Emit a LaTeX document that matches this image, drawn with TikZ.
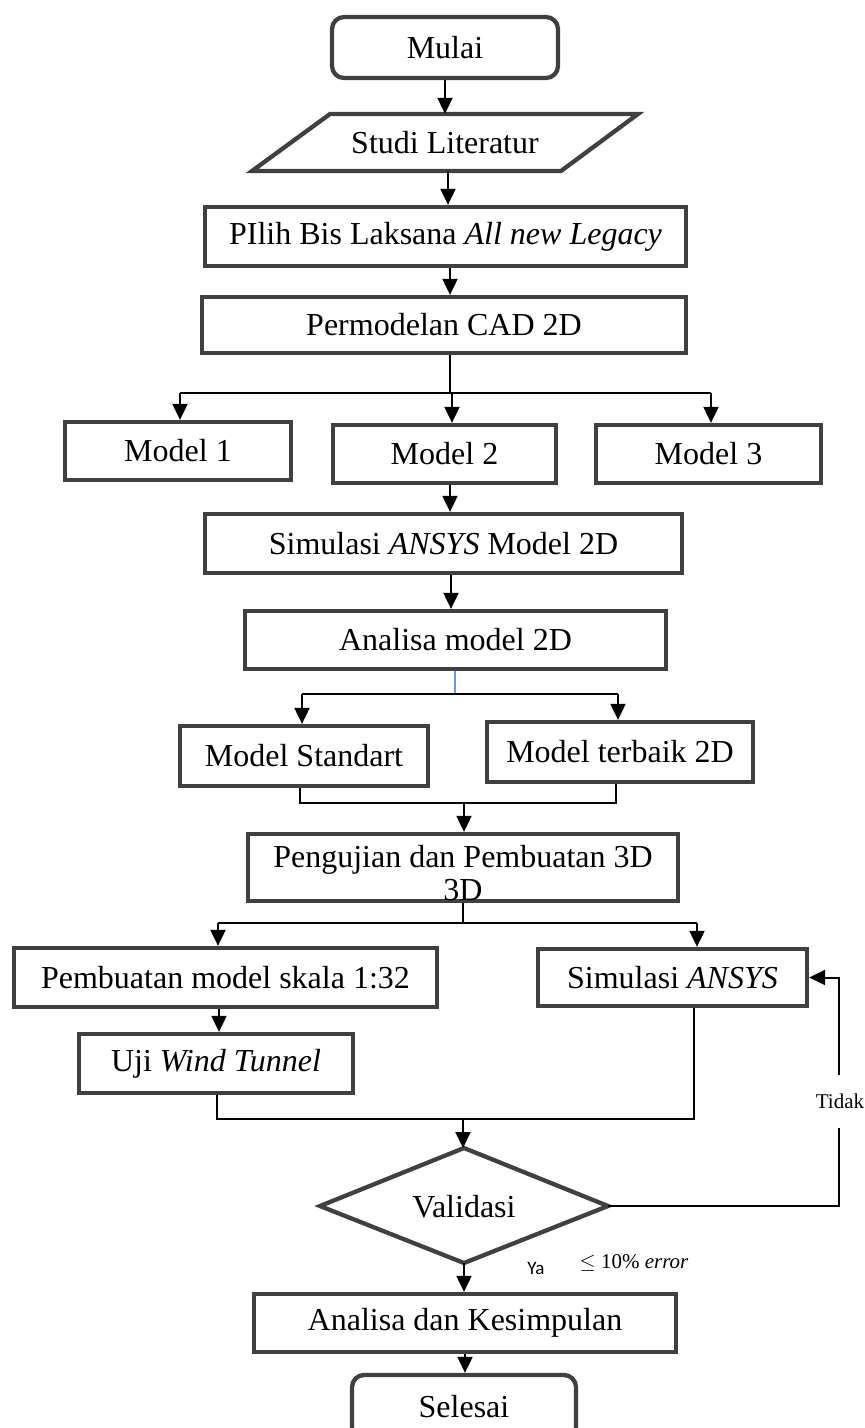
\documentclass[tikz,border=0pt]{standalone}
\usepackage{fontspec}
\setmainfont{Liberation Serif}
\newfontfamily\yafont{Carlito}
\usetikzlibrary{arrows.meta,calc}
\definecolor{bordergray}{HTML}{404040}
\definecolor{linkblue}{HTML}{6C9BD2}
\begin{document}
\begin{tikzpicture}[x=1pt,y=-1pt,
  every node/.style={font=\fontsize{32}{36}\selectfont, inner sep=0pt},
  stepbox/.style={draw=bordergray, line width=4.3pt, fill=white},
  term/.style={stepbox, rounded corners=12pt},
  link/.style={line width=2pt, draw=black},
  arr/.style={link, -{Triangle[length=16pt,width=15pt]}},
  smalltext/.style={font=\fontsize{21}{24}\selectfont},
]
\useasboundingbox (0,0) rectangle (865,1428);

% nodes
\node[term, minimum width=226pt, minimum height=61pt] (mulai) at (445,47.5) {Mulai};
\draw[stepbox] (330,114) -- (638,114) -- (561,171) -- (252,171) -- cycle;
\node[minimum width=300pt, minimum height=57pt] (studi) at (445,142.5) {Studi Literatur};
\node[stepbox, minimum width=481pt, minimum height=59pt] (pilih) at (445.5,236.5) {PIlih Bis Laksana \textit{All new Legacy}};
\node[stepbox, minimum width=484pt, minimum height=56pt] (cad) at (444,325) {Permodelan CAD 2D};
\node[stepbox, minimum width=226pt, minimum height=58pt] (m1) at (178,451) {Model 1};
\node[stepbox, minimum width=223pt, minimum height=58pt] (m2) at (444.5,454) {Model 2};
\node[stepbox, minimum width=225pt, minimum height=58pt] (m3) at (708.5,454) {Model 3};
\node[stepbox, minimum width=477pt, minimum height=59pt] (sim2d) at (443.5,543.5) {Simulasi \textit{ANSYS} Model 2D};
\node[stepbox, minimum width=421pt, minimum height=58pt] (an2d) at (455.5,640) {Analisa model 2D};
\node[stepbox, minimum width=248pt, minimum height=60pt] (mstd) at (304,756) {Model Standart};
\node[stepbox, minimum width=266pt, minimum height=60pt] (mbest) at (620,752) {Model terbaik 2D};
\node[stepbox, minimum width=430pt, minimum height=67pt] (peng) at (463,867.5) {};
\node[anchor=base] (pengA) at (463,867) {Pengujian dan Pembuatan 3D};
\node[anchor=base] (pengB) at (463,900) {3D};
\node[stepbox, minimum width=423pt, minimum height=59pt] (pemb) at (225.5,977.5) {Pembuatan model skala 1:32};
\node[stepbox, minimum width=269pt, minimum height=57pt] (simA) at (672.5,977.5) {Simulasi \textit{ANSYS}};
\node[stepbox, minimum width=274pt, minimum height=59pt] (uji) at (216,1063.5) {Uji \textit{Wind Tunnel}};
\draw[stepbox] (464,1148) -- (608,1206) -- (464,1263) -- (320,1206) -- cycle;
\coordinate (valN) at (464,1148);
\coordinate (valE) at (608,1206);
\coordinate (valS) at (464,1263);
\node (val) at (464,1207) {Validasi};
\node[stepbox, minimum width=422pt, minimum height=58pt] (anks) at (465,1323) {Analisa dan Kesimpulan};
\node[term, minimum width=224pt, minimum height=64pt] (sel) at (464,1407) {Selesai};

% connectors
\draw[arr] (mulai.south) -- (studi.north);
\draw[arr] ([xshift=3pt]studi.south) -- ([xshift=3pt]studi.south |- pilih.north);
\draw[arr] ([xshift=4.5pt]pilih.south) -- ([xshift=4.5pt]pilih.south |- cad.north);

\coordinate (b1) at (450,393);
\coordinate (b1L) at (180,393);
\coordinate (b1M) at (452,393);
\coordinate (b1R) at (711,393);
\draw[link] (cad.south -| b1) -- (b1);
\draw[link] (b1L) -- (b1R);
\draw[arr] (b1L) -- (b1L |- m1.north);
\draw[arr] (b1M) -- (b1M |- m2.north);
\draw[arr] (b1R) -- (b1R |- m3.north);

\draw[arr] (m2.south -| b1) -- (b1 |- sim2d.north);
\draw[arr] ([xshift=7.5pt]sim2d.south) -- ([xshift=7.5pt]sim2d.south |- an2d.north);

\coordinate (b2) at (455,694);
\coordinate (b2L) at (302,694);
\coordinate (b2R) at (618,694);
\draw[line width=1.3pt, draw=linkblue] (an2d.south -| b2) -- (b2);
\draw[link] (b2L) -- (b2R);
\draw[arr] (b2L) -- (b2L |- mstd.north);
\draw[arr] (b2R) -- (b2R |- mbest.north);

\coordinate (m3L) at (300,803);
\coordinate (m3M) at (464,803);
\coordinate (m3R) at (616,803);
\draw[link] (mstd.south -| m3L) -- (m3L) -- (m3R) -- (mbest.south -| m3R);
\draw[arr] (m3M) -- (m3M |- peng.north);

\coordinate (b4) at (463,923);
\coordinate (b4L) at (218,923);
\coordinate (b4R) at (697,923);
\draw[link] (peng.south) -- (b4);
\draw[link] (b4L) -- (b4R);
\draw[arr] (b4L) -- (b4L |- pemb.north);
\draw[arr] (b4R) -- (b4R |- simA.north);

\draw[arr] ([xshift=-6.5pt]pemb.south) -- ([xshift=-6.5pt]pemb.south |- uji.north);

\coordinate (m5L) at (217,1119);
\coordinate (m5M) at (463,1119);
\coordinate (m5R) at (694,1119);
\draw[link] (uji.south -| m5L) -- (m5L) -- (m5R) -- (simA.south -| m5R);
\draw[arr] (m5M) -- (m5M |- valN);

\coordinate (fb) at (839,1206);
\draw[arr] (valE) -- (fb) -- (fb |- simA.east) -- (simA.east);
\node[smalltext, fill=white, minimum height=53pt, minimum width=52pt] (tidak) at (840,1101.5) {Tidak};

\draw[arr] (valS) -- (valS |- anks.north);
\draw[arr] (anks.south) -- (anks.south |- sel.north);

\node[font=\yafont\fontsize{19}{22}\selectfont] (ya) at (536,1268) {Ya};
\node[smalltext] (err) at (634,1263) {$\le$ 10\% \textit{error}};
\end{tikzpicture}
\end{document}
